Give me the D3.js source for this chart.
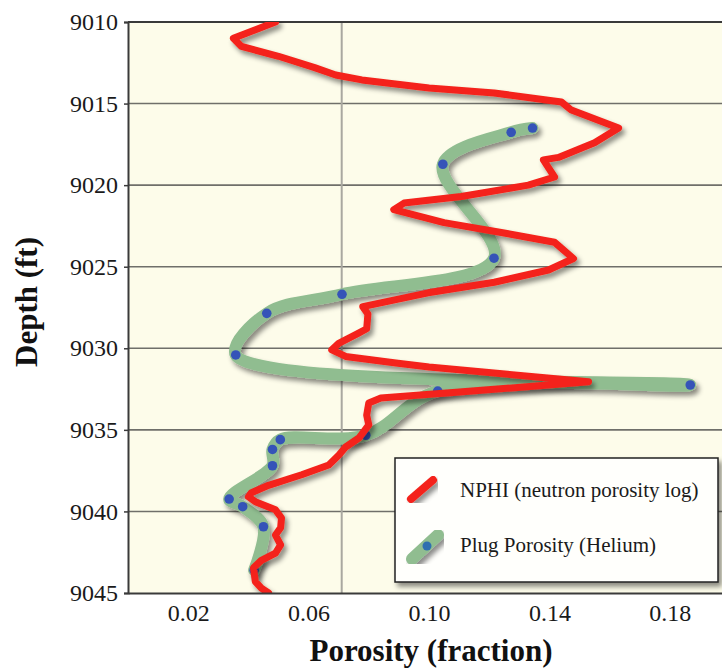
<!DOCTYPE html>
<html>
<head>
<meta charset="utf-8">
<script src="https://cdn.jsdelivr.net/npm/d3@7"></script>
<style>
  html, body { margin: 0; padding: 0; background: #fff; }
  svg { display: block; }
</style>
</head>
<body>
<div id="chart"></div>
<script>
'use strict';

// NPHI log (depth ft, porosity fraction)
const nphiDepth = [9010.0, 9011.0, 9011.5, 9012.1, 9012.8, 9013.25, 9013.55, 9014.05, 9014.35, 9014.9,
  9015.4, 9016.5, 9017.4, 9018.3, 9018.45, 9019.5, 9020.0, 9020.7, 9021.1, 9021.5,
  9022.3, 9022.9, 9023.5, 9024.5, 9025.2, 9025.95, 9026.6, 9027.45, 9027.9, 9028.8,
  9029.1, 9029.7, 9030.1, 9030.5, 9030.9, 9031.15, 9032.05, 9032.7, 9033.05, 9033.35,
  9034.1, 9034.7, 9035.5, 9036.05, 9036.55, 9037.15, 9037.75, 9038.4, 9038.85, 9039.1,
  9039.4, 9039.9, 9040.4, 9041.0, 9041.45, 9042.05, 9042.55, 9043.0, 9043.45, 9044.3,
  9044.7, 9045.0];
const nphiPorosity = [0.049, 0.035, 0.0377, 0.050, 0.062, 0.069, 0.0777, 0.100, 0.1217, 0.144,
  0.1473, 0.163, 0.155, 0.143, 0.138, 0.1417, 0.133, 0.1107, 0.0917, 0.0883,
  0.105, 0.124, 0.1417, 0.148, 0.1397, 0.1217, 0.0997, 0.078, 0.0797, 0.0793,
  0.0763, 0.070, 0.0677, 0.0723, 0.089, 0.100, 0.153, 0.109, 0.084, 0.080,
  0.0793, 0.080, 0.0767, 0.0723, 0.070, 0.0667, 0.0577, 0.0467, 0.041, 0.040,
  0.0423, 0.049, 0.051, 0.0507, 0.049, 0.0507, 0.049, 0.0443, 0.0417, 0.0423,
  0.0443, 0.0467];

// plug samples (helium porosity)
const plugDepth = [9016.5, 9016.76, 9018.72, 9024.48, 9026.69, 9027.86, 9030.41, 9032.25, 9032.62,
  9035.33, 9035.6, 9036.2, 9037.2, 9039.24, 9039.71, 9040.94, 9043.6];
const plugPorosity = [0.1344, 0.1273, 0.1046, 0.1216, 0.0711, 0.0461, 0.0358, 0.1868, 0.1029,
  0.079, 0.0506, 0.048, 0.048, 0.0336, 0.0381, 0.045, 0.0419];

const depthTicks = [9010, 9015, 9020, 9025, 9030, 9035, 9040, 9045];
const porosityTicks = [0.02, 0.06, 0.10, 0.14, 0.18];
const porosityGrid = [0.071];
const seriesNames = ['NPHI (neutron porosity log)', 'Plug Porosity (Helium)'];

const W = 722;
const H = 669;
const plotLeft = 128;
const plotTop = 22;
const plotBottom = 593;
const serif = '"Liberation Serif"';

const nphi = nphiDepth.map((d, i) => ({ depth: d, por: nphiPorosity[i] }));
const plug = plugDepth.map((d, i) => ({ depth: d, por: plugPorosity[i] }));

const svg = d3.select('#chart')
  .append('svg')
  .attr('width', W)
  .attr('height', H);

const defs = svg.append('defs');
defs.append('filter')
  .attr('id', 'shadow')
  .attr('x', '-20%').attr('y', '-20%')
  .attr('width', '140%').attr('height', '140%')
  .append('feDropShadow')
  .attr('dx', 3).attr('dy', 4)
  .attr('stdDeviation', 2.5)
  .attr('flood-color', '#000')
  .attr('flood-opacity', 0.45);
defs.append('clipPath')
  .attr('id', 'plotClip')
  .append('rect')
  .attr('x', plotLeft).attr('y', plotTop)
  .attr('width', W - plotLeft).attr('height', plotBottom - plotTop);

const xScale = d3.scaleLinear().domain([0, 0.2]).range([plotLeft, 730]);
const yScale = d3.scaleLinear().domain([9010, 9045]).range([plotTop, plotBottom]);

// plot background
svg.append('rect')
  .attr('x', plotLeft).attr('y', plotTop)
  .attr('width', W - plotLeft).attr('height', plotBottom - plotTop)
  .attr('fill', '#fdfcea');

// grid
svg.append('g')
  .selectAll('line')
  .data(depthTicks.slice(1, -1))
  .enter()
  .append('line')
  .attr('x1', plotLeft).attr('x2', W)
  .attr('y1', d => yScale(d)).attr('y2', d => yScale(d))
  .attr('stroke', '#6f6f6a')
  .attr('stroke-width', 1.6);

svg.append('g')
  .selectAll('line')
  .data(porosityGrid)
  .enter()
  .append('line')
  .attr('x1', d => xScale(d)).attr('x2', d => xScale(d))
  .attr('y1', plotTop).attr('y2', plotBottom)
  .attr('stroke', '#a9a8a0')
  .attr('stroke-width', 2);

// top frame
svg.append('line')
  .attr('x1', plotLeft).attr('x2', W)
  .attr('y1', plotTop).attr('y2', plotTop)
  .attr('stroke', '#3a3a3a')
  .attr('stroke-width', 2);

const plot = svg.append('g').attr('clip-path', 'url(#plotClip)');

const plugLine = d3.line()
  .x(d => xScale(d.por))
  .y(d => yScale(d.depth))
  .curve(d3.curveCatmullRom.alpha(0.5));

const nphiLine = d3.line()
  .x(d => xScale(d.por))
  .y(d => yScale(d.depth));

plot.append('path')
  .datum(plug)
  .attr('d', plugLine)
  .attr('fill', 'none')
  .attr('stroke', '#90bd90')
  .attr('stroke-width', 12)
  .attr('stroke-linecap', 'round')
  .attr('stroke-linejoin', 'round')
  .attr('filter', 'url(#shadow)');

plot.append('g')
  .selectAll('circle')
  .data(plug)
  .enter()
  .append('circle')
  .attr('cx', d => xScale(d.por))
  .attr('cy', d => yScale(d.depth))
  .attr('r', 4.8)
  .attr('fill', '#3553b8');

plot.append('path')
  .datum(nphi)
  .attr('d', nphiLine)
  .attr('fill', 'none')
  .attr('stroke', '#f4231a')
  .attr('stroke-width', 7)
  .attr('stroke-linecap', 'round')
  .attr('stroke-linejoin', 'round')
  .attr('filter', 'url(#shadow)');

// axes
const yAxis = svg.append('g')
  .attr('transform', `translate(${plotLeft}, 0)`)
  .call(d3.axisLeft(yScale).tickValues(depthTicks).tickSize(4).tickPadding(6).tickFormat(d3.format('d')));

const xAxis = svg.append('g')
  .attr('transform', `translate(0, ${plotBottom})`)
  .call(d3.axisBottom(xScale).tickValues(porosityTicks).tickSize(0).tickPadding(11).tickFormat(d3.format('.2f')));

[yAxis, xAxis].forEach(a => {
  a.attr('font-family', serif).attr('font-size', 24);
  a.select('.domain').attr('stroke', '#3a3a3a').attr('stroke-width', 2);
  a.selectAll('.tick line').attr('stroke', '#3a3a3a').attr('stroke-width', 1.5);
  a.selectAll('.tick text').attr('fill', '#1a1a1a');
});

// legend
const legend = svg.append('g');
legend.append('rect')
  .attr('x', 395).attr('y', 458)
  .attr('width', 323).attr('height', 124)
  .attr('fill', '#fffffc')
  .attr('stroke', '#222')
  .attr('stroke-width', 1.5)
  .attr('filter', 'url(#shadow)');

legend.append('line')
  .attr('x1', 411).attr('y1', 499)
  .attr('x2', 433).attr('y2', 480)
  .attr('stroke', '#f4231a')
  .attr('stroke-width', 8)
  .attr('stroke-linecap', 'round')
  .attr('filter', 'url(#shadow)');

legend.append('line')
  .attr('x1', 412).attr('y1', 559)
  .attr('x2', 438).attr('y2', 535)
  .attr('stroke', '#90bd90')
  .attr('stroke-width', 12)
  .attr('stroke-linecap', 'round')
  .attr('filter', 'url(#shadow)');

legend.append('circle')
  .attr('cx', 427).attr('cy', 546)
  .attr('r', 4.5)
  .attr('fill', '#2f6fb0');

legend.selectAll('text')
  .data(seriesNames)
  .enter()
  .append('text')
  .attr('x', 460)
  .attr('y', (d, i) => 497 + i * 55)
  .attr('fill', '#1a1a1a')
  .attr('font-family', serif)
  .attr('font-size', 21)
  .text(d => d);

// axis titles
svg.append('text')
  .attr('x', 431)
  .attr('y', 661)
  .attr('text-anchor', 'middle')
  .attr('fill', '#111')
  .attr('font-family', serif)
  .attr('font-size', 31)
  .attr('font-weight', 'bold')
  .text('Porosity (fraction)');

svg.append('text')
  .attr('transform', 'translate(37, 302) rotate(-90)')
  .attr('text-anchor', 'middle')
  .attr('fill', '#111')
  .attr('font-family', serif)
  .attr('font-size', 31)
  .attr('font-weight', 'bold')
  .text('Depth (ft)');
</script>
</body>
</html>
